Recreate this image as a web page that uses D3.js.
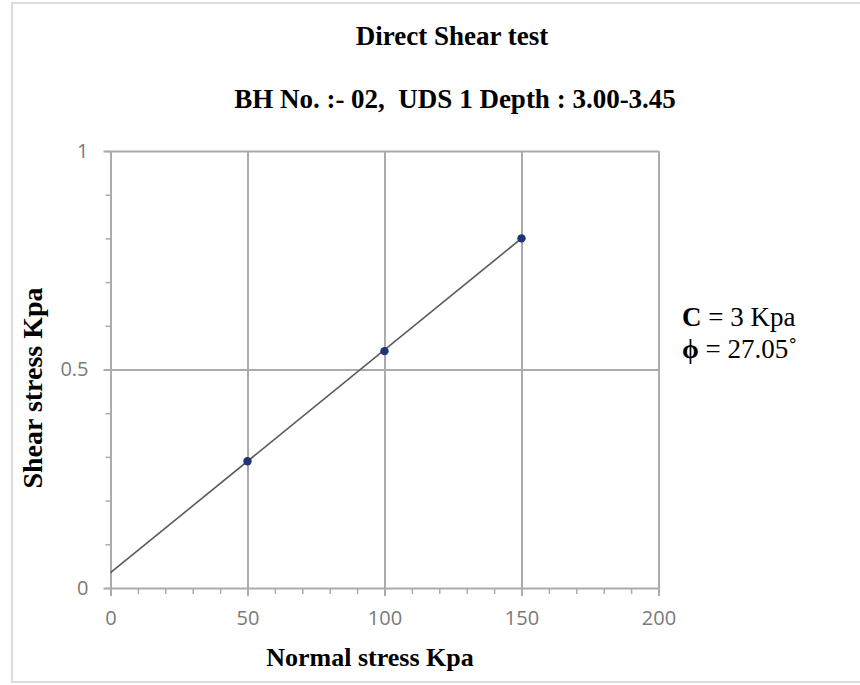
<!DOCTYPE html>
<html>
<head>
<meta charset="utf-8">
<script src="https://cdn.jsdelivr.net/npm/d3@7"></script>
<style>
  html, body { margin: 0; padding: 0; background: #fff; }
  svg { display: block; }
</style>
</head>
<body>
<svg id="chart" width="860" height="685"></svg>
<script>
// Direct shear test results
const normalStress = [50, 100, 150];
const shearStress = [0.29, 0.542, 0.80];
// Failure envelope (best-fit line)
const envelopeX = [0, 150];
const envelopeY = [0.035, 0.80];
const xMajorTicks = [0, 50, 100, 150, 200];
const xMinorTicks = d3.range(0, 201, 10);
const yMajorTicks = [0, 0.5, 1];
const yMinorTicks = d3.range(0, 1.0001, 0.1);
const titleText = "Direct Shear test";
const subtitleText = "BH No. :- 02,  UDS 1 Depth : 3.00-3.45";
const xTitle = "Normal stress Kpa";
const yTitle = "Shear stress Kpa";

const svg = d3.select("#chart");
const gridColor = "#ababab";
const tickColor = "#7a7a7a";
const serif = "'Liberation Serif', 'Times New Roman', serif";

// outer frame
svg.append("rect")
  .attr("x", 12).attr("y", 3).attr("width", 860).attr("height", 679)
  .attr("fill", "#fff").attr("stroke", "#dcdcdc").attr("stroke-width", 2);

const x = d3.scaleLinear().domain([0, 200]).range([110.5, 658.5]);
const y = d3.scaleLinear().domain([0, 1]).range([588, 151]);

// gridlines
const gx = svg.append("g").attr("transform", `translate(0,${y(0)})`)
  .call(d3.axisBottom(x).tickValues([50, 100, 150, 200]).tickSize(-(y(0) - y(1))).tickFormat(""));
const gy = svg.append("g").attr("transform", `translate(${x(0)},0)`)
  .call(d3.axisLeft(y).tickValues([0.5, 1]).tickSize(-(x(200) - x(0))).tickFormat(""));
[gx, gy].forEach(g => {
  g.select(".domain").remove();
  g.selectAll("line").attr("stroke", gridColor).attr("stroke-width", 2);
});

// minor ticks
const mx = svg.append("g").attr("transform", `translate(0,${y(0)})`)
  .call(d3.axisBottom(x).tickValues(xMinorTicks).tickSize(6).tickFormat(""));
const my = svg.append("g").attr("transform", `translate(${x(0)},0)`)
  .call(d3.axisLeft(y).tickValues(yMinorTicks).tickSize(5).tickFormat(""));
[mx, my].forEach(g => {
  g.select(".domain").remove();
  g.selectAll("line").attr("stroke", gridColor).attr("stroke-width", 1.5);
});

// main axes
const ax = svg.append("g").attr("transform", `translate(0,${y(0)})`)
  .call(d3.axisBottom(x).tickValues(xMajorTicks).tickSize(8).tickSizeOuter(0).tickPadding(15).tickFormat(d3.format("d")));
const ay = svg.append("g").attr("transform", `translate(${x(0)},0)`)
  .call(d3.axisLeft(y).tickValues(yMajorTicks).tickSize(7).tickSizeOuter(0).tickPadding(15).tickFormat(d => d === 0.5 ? "0.5" : d3.format("d")(d)));
[ax, ay].forEach(g => {
  g.select(".domain").attr("stroke", gridColor).attr("stroke-width", 2);
  g.selectAll("line").attr("stroke", gridColor).attr("stroke-width", 2);
  g.selectAll("text")
    .attr("fill", tickColor)
    .style("font-family", "'Open Sans', sans-serif")
    .style("font-size", "20px");
});

// failure envelope
svg.append("path")
  .datum(envelopeX.map((d, i) => [d, envelopeY[i]]))
  .attr("fill", "none")
  .attr("stroke", "#5a5a5a")
  .attr("stroke-width", 1.6)
  .attr("d", d3.line().x(d => x(d[0])).y(d => y(d[1])));

// test points
svg.append("g").selectAll("circle")
  .data(normalStress.map((d, i) => [d, shearStress[i]]))
  .join("circle")
  .attr("cx", d => x(d[0]))
  .attr("cy", d => y(d[1]))
  .attr("r", 4.2)
  .attr("fill", "#1f3577");

// titles
svg.append("text").attr("x", 452).attr("y", 45).attr("text-anchor", "middle")
  .style("font-family", serif).style("font-weight", "bold").style("font-size", "27px")
  .text(titleText);
svg.append("text").attr("x", 455).attr("y", 108).attr("text-anchor", "middle")
  .style("font-family", serif).style("font-weight", "bold").style("font-size", "27px")
  .style("white-space", "pre")
  .text(subtitleText);
svg.append("text").attr("x", 370).attr("y", 666).attr("text-anchor", "middle")
  .style("font-family", serif).style("font-weight", "bold").style("font-size", "26px")
  .text(xTitle);
svg.append("text").attr("transform", "translate(42,388) rotate(-90)").attr("text-anchor", "middle")
  .style("font-family", serif).style("font-weight", "bold").style("font-size", "28px")
  .text(yTitle);

// strength parameters
const ann = svg.append("g").style("font-family", serif).style("font-size", "27px");
const l1 = ann.append("text").attr("x", 682).attr("y", 326);
l1.append("tspan").style("font-weight", "bold").text("C");
l1.append("tspan").text(" = 3 Kpa");
const l2 = ann.append("text").attr("x", 682).attr("y", 358);
l2.append("tspan").style("font-weight", "bold").text("ϕ");
l2.append("tspan").text(" = 27.05˚");
</script>
</body>
</html>
